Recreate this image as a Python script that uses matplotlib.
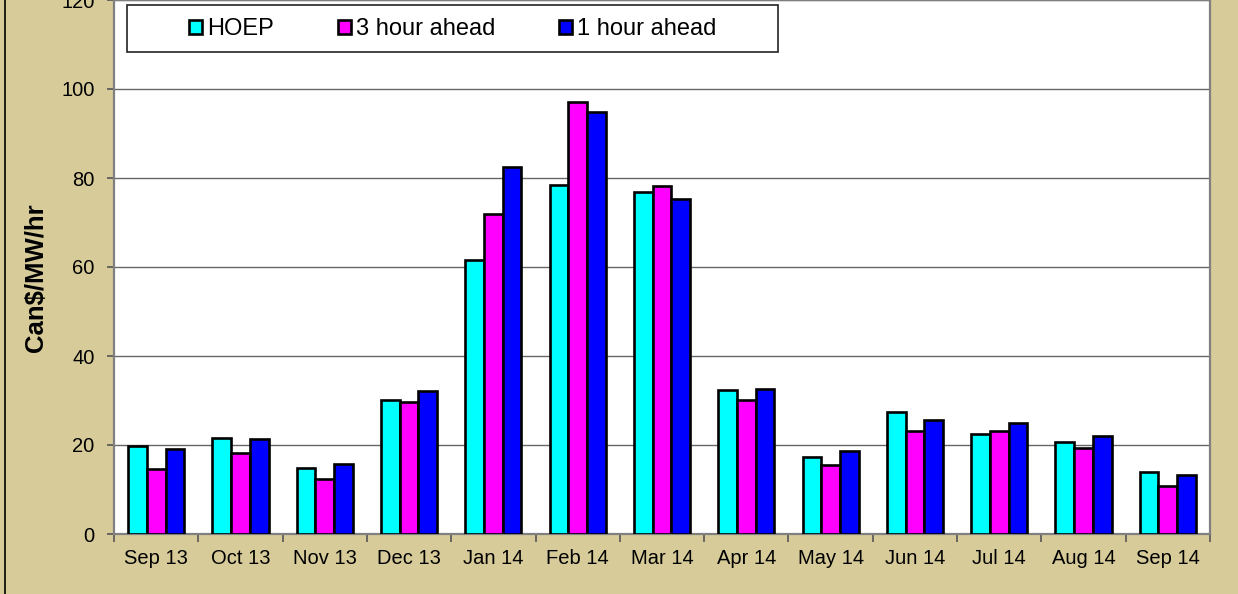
import numpy as np
import matplotlib
matplotlib.use("Agg")
import matplotlib.pyplot as plt
from matplotlib.lines import Line2D
from matplotlib.patches import Rectangle

plt.rcParams['font.family'] = ['Liberation Sans', 'DejaVu Sans']

# data
months = ["Sep 13", "Oct 13", "Nov 13", "Dec 13", "Jan 14", "Feb 14", "Mar 14",
          "Apr 14", "May 14", "Jun 14", "Jul 14", "Aug 14", "Sep 14"]
hoep = [19.7, 21.6, 14.9, 30.1, 61.6, 78.5, 76.8, 32.3, 17.2, 27.4, 22.5, 20.7, 14.0]
three_hour = [14.6, 18.1, 12.3, 29.6, 72.0, 97.0, 78.2, 30.1, 15.4, 23.1, 23.2, 19.3, 10.7]
one_hour = [19.2, 21.4, 15.8, 32.2, 82.4, 94.9, 75.2, 32.6, 18.6, 25.6, 25.0, 22.0, 13.2]
series_names = ["HOEP", "3 hour ahead", "1 hour ahead"]
series_colors = ["#00ffff", "#ff00ff", "#0000ff"]

W, H = 1238, 594
bg = "#d7cc99"

fig = plt.figure(figsize=(W / 100, H / 100), dpi=100, facecolor=bg)
ax = fig.add_axes([114 / W, 1 - 534 / H, (1210 - 114) / W, 534 / H])
ax.set_facecolor("white")

x = np.arange(len(months))
bw = 0.222
bars = []
for i, (vals, col, name) in enumerate(zip([hoep, three_hour, one_hour], series_colors, series_names)):
    b = ax.bar(x + (i - 1) * bw, vals, width=bw, color=col, edgecolor="black",
               linewidth=1.9, label=name, zorder=3)
    bars.append(b)

ax.set_xlim(-0.5, len(months) - 0.5)
ax.set_ylim(0, 120)
ax.set_yticks(np.arange(0, 121, 20))
ax.yaxis.grid(True, color="#666666", linewidth=1.0, zorder=1)
ax.set_axisbelow(True)

ax.set_xticks(x)
ax.set_xticklabels(months)
ax.set_xticks(np.arange(-0.5, len(months), 1), minor=True)
ax.tick_params(axis="x", which="major", length=0, pad=11, labelsize=14.5)
ax.tick_params(axis="x", which="minor", length=6, width=1.2, color="#555555", direction="out")
ax.tick_params(axis="y", length=5, width=1.2, color="#555555", pad=9, labelsize=14.5)

for s in ax.spines.values():
    s.set_color("#808080")
    s.set_linewidth(1.6)

ax.set_ylabel("Can$/MW/hr", fontsize=18.5, fontweight="bold")
ax.yaxis.set_label_coords(-0.060, 0.48)

# legend frame drawn separately so the padding can match the original
fig.add_artist(Rectangle((127 / W, 1 - 52 / H), (778 - 127) / W, 47 / H,
                         transform=fig.transFigure, facecolor="white",
                         edgecolor="#222222", linewidth=1.2, zorder=5))
leg = fig.legend(handles=bars, labels=series_names, ncol=3, frameon=False,
                 loc="center left", bbox_to_anchor=(189 / W, 1 - 29 / H),
                 fontsize=17, handlelength=0.55, handleheight=0.55,
                 handletextpad=0.22, columnspacing=2.7, borderpad=0,
                 borderaxespad=0)
leg.set_zorder(6)

# outer chart border on the left
fig.add_artist(Line2D([5 / W, 5 / W], [0, 1], transform=fig.transFigure,
                      color="black", linewidth=1.2))

fig.savefig("out.png", dpi=100, facecolor=bg)
